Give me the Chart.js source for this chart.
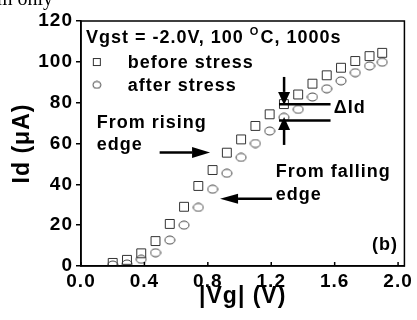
<!DOCTYPE html>
<html>
<head>
<meta charset="utf-8">
<script src="https://cdn.jsdelivr.net/npm/chart.js"></script>
<style>
  html, body { margin: 0; padding: 0; background: #fff; overflow: hidden; }
  canvas { display: block; }
</style>
</head>
<body>
<canvas id="chart" width="417" height="320"></canvas>
<script>
// |Vg| (V) sweep points, shared by both series
const vg = [0.20, 0.29, 0.38, 0.47, 0.56, 0.65, 0.74, 0.83, 0.92, 1.01,
            1.10, 1.19, 1.28, 1.37, 1.46, 1.55, 1.64, 1.73, 1.82, 1.90];
// Id (uA) before / after stress
const idBefore = [1.5, 3.0, 6.2, 12.2, 20.6, 29.0, 39.2, 47.0, 55.5, 62.0,
                  68.6, 74.3, 79.3, 84.0, 89.3, 93.4, 97.1, 100.4, 102.8, 104.4];
const idAfter = [0.5, 1.0, 3.3, 6.5, 12.7, 20.0, 28.7, 37.6, 45.4, 53.2,
                 60.0, 66.1, 72.8, 76.7, 82.8, 86.8, 90.7, 94.7, 98.0, 99.8];
const seriesLabels = ['before stress', 'after stress'];
const xTitle = '|Vg| (V)';
const yTitle = 'Id (\u03bcA)';

const FONT = "'Liberation Sans', Arial, sans-serif";

// elliptical marker for the "after stress" points
function ellipseMarker(w, h, color) {
  const c = document.createElement('canvas');
  c.width = w + 2; c.height = h + 2;
  const g = c.getContext('2d');
  g.strokeStyle = color; g.lineWidth = 1;
  g.beginPath();
  g.ellipse(c.width / 2, c.height / 2, w / 2, h / 2, 0, 0, Math.PI * 2);
  g.stroke();
  return c;
}
const afterMarker = ellipseMarker(10, 8, '#444');
const afterLegendMarker = ellipseMarker(8, 7, '#444');

function arrow(ctx, x1, y1, x2, y2, headLen, headW) {
  const a = Math.atan2(y2 - y1, x2 - x1);
  const bx = x2 - Math.cos(a) * headLen, by = y2 - Math.sin(a) * headLen;
  ctx.beginPath();
  ctx.moveTo(x1, y1); ctx.lineTo(bx, by); ctx.stroke();
  ctx.beginPath();
  ctx.moveTo(x2, y2);
  ctx.lineTo(bx + Math.sin(a) * headW / 2, by - Math.cos(a) * headW / 2);
  ctx.lineTo(bx - Math.sin(a) * headW / 2, by + Math.cos(a) * headW / 2);
  ctx.closePath(); ctx.fill();
}

const spacing = {
  id: 'spacing',
  beforeLayout(chart) { chart.ctx.letterSpacing = '1px'; },
  beforeDraw(chart) { chart.ctx.letterSpacing = '1px'; }
};

const annotations = {
  id: 'annotations',
  afterDatasetsDraw(chart) {
    const { ctx, chartArea: ca, scales: { x, y } } = chart;
    const X = v => x.getPixelForValue(v), Y = v => y.getPixelForValue(v);
    ctx.save();
    ctx.letterSpacing = '1px';
    ctx.fillStyle = '#000'; ctx.strokeStyle = '#000';

    // frame
    ctx.lineWidth = 1.5;
    ctx.strokeRect(ca.left, ca.top, ca.right - ca.left, ca.bottom - ca.top);
    // inward x ticks
    x.ticks.forEach(t => {
      const px = X(t.value);
      ctx.beginPath(); ctx.moveTo(px, ca.bottom); ctx.lineTo(px, ca.bottom - 4); ctx.stroke();
    });

    ctx.textBaseline = 'alphabetic';
    ctx.textAlign = 'left';
    ctx.font = 'bold 18px ' + FONT;
    // title line with superscript O
    let tx = X(0.031); const ty = Y(109.2);
    const p1 = 'Vgst = -2.0V, 100 ';
    ctx.fillText(p1, tx, ty); tx += ctx.measureText(p1).width;
    ctx.font = 'bold 11px ' + FONT;
    ctx.fillText('O', tx, ty - 8); tx += ctx.measureText('O').width + 1;
    ctx.font = 'bold 18px ' + FONT;
    ctx.fillText('C, 1000s', tx, ty);

    // legend
    ctx.lineWidth = 1; ctx.strokeStyle = '#333';
    ctx.strokeRect(X(0.10) - 3.5, Y(99.9) - 3.5, 7, 7);
    ctx.drawImage(afterLegendMarker, X(0.10) - afterLegendMarker.width / 2, Y(88.7) - afterLegendMarker.height / 2);
    ctx.fillText(seriesLabels[0], X(0.295), Y(96.8));
    ctx.fillText(seriesLabels[1], X(0.295), Y(85.9));

    // rising / falling edge notes
    ctx.fillText('From rising', X(0.099), Y(67.4));
    ctx.fillText('edge', X(0.099), Y(56.8));
    ctx.fillText('From falling', X(1.228), Y(43.7));
    ctx.fillText('edge', X(1.228), Y(32.3));
    ctx.strokeStyle = '#000'; ctx.lineWidth = 2.5;
    arrow(ctx, X(0.496), Y(55.6), X(0.814), Y(55.6), 18, 11);
    arrow(ctx, X(1.205), Y(33.0), X(0.877), Y(33.0), 18, 10);

    // delta Id marker
    arrow(ctx, X(1.281), Y(92.6), X(1.281), Y(78.9), 13, 12);
    arrow(ctx, X(1.281), Y(59.3), X(1.281), Y(73.0), 13, 12);
    ctx.beginPath();
    ctx.moveTo(X(1.249), Y(79.2)); ctx.lineTo(X(1.574), Y(79.2));
    ctx.moveTo(X(1.249), Y(71.3)); ctx.lineTo(X(1.574), Y(71.3));
    ctx.stroke();
    ctx.fillText('\u0394Id', X(1.594), Y(74.8));

    ctx.fillText('(b)', X(1.835), Y(7.8));

    // clipped caption remnant at the top edge
    ctx.letterSpacing = '0px';
    ctx.font = "20px 'Liberation Serif', 'Times New Roman', serif";
    ctx.fillText('m only', -3, 5);
    ctx.restore();
  }
};

const pts = ys => vg.map((v, i) => ({ x: v, y: ys[i] }));
const tickFont = { family: FONT, size: 19, weight: 'bold' };
const titleFont = { family: FONT, size: 23, weight: 'bold' };

new Chart(document.getElementById('chart').getContext('2d'), {
  type: 'scatter',
  data: {
    datasets: [
      {
        label: seriesLabels[0],
        data: pts(idBefore),
        pointStyle: 'rect',
        pointRadius: 6.3,
        borderColor: '#333',
        backgroundColor: 'rgba(0,0,0,0)',
        borderWidth: 1
      },
      {
        label: seriesLabels[1],
        data: pts(idAfter),
        pointStyle: afterMarker,
        pointRadius: 5,
        borderColor: '#444',
        backgroundColor: 'rgba(0,0,0,0)',
        borderWidth: 1
      }
    ]
  },
  options: {
    responsive: false,
    animation: false,
    devicePixelRatio: 1,
    layout: { padding: { left: 0, right: 11, top: 21, bottom: 0 } },
    plugins: { legend: { display: false }, tooltip: { enabled: false } },
    scales: {
      x: {
        type: 'linear', min: 0, max: 2.04,
        afterFit: s => { s.height = 54; },
        ticks: {
          stepSize: 0.4, includeBounds: false, padding: 4, color: '#000',
          font: tickFont, maxRotation: 0,
          callback: v => v.toFixed(1)
        },
        grid: { drawOnChartArea: false, drawTicks: false },
        border: { color: '#000', width: 1.5 },
        title: { display: true, text: xTitle, color: '#000', font: titleFont, padding: { top: 0, bottom: 10 } }
      },
      y: {
        min: 0, max: 120,
        afterFit: s => { s.width = 81; },
        ticks: { stepSize: 20, includeBounds: false, padding: 3, color: '#000', font: tickFont },
        grid: { drawOnChartArea: false, tickLength: 5, color: '#000', lineWidth: 1.5 },
        border: { color: '#000', width: 1.5 },
        title: { display: true, text: yTitle, color: '#000', font: titleFont, padding: { top: 9, bottom: 0 } }
      }
    }
  },
  plugins: [spacing, annotations]
});
</script>
</body>
</html>
